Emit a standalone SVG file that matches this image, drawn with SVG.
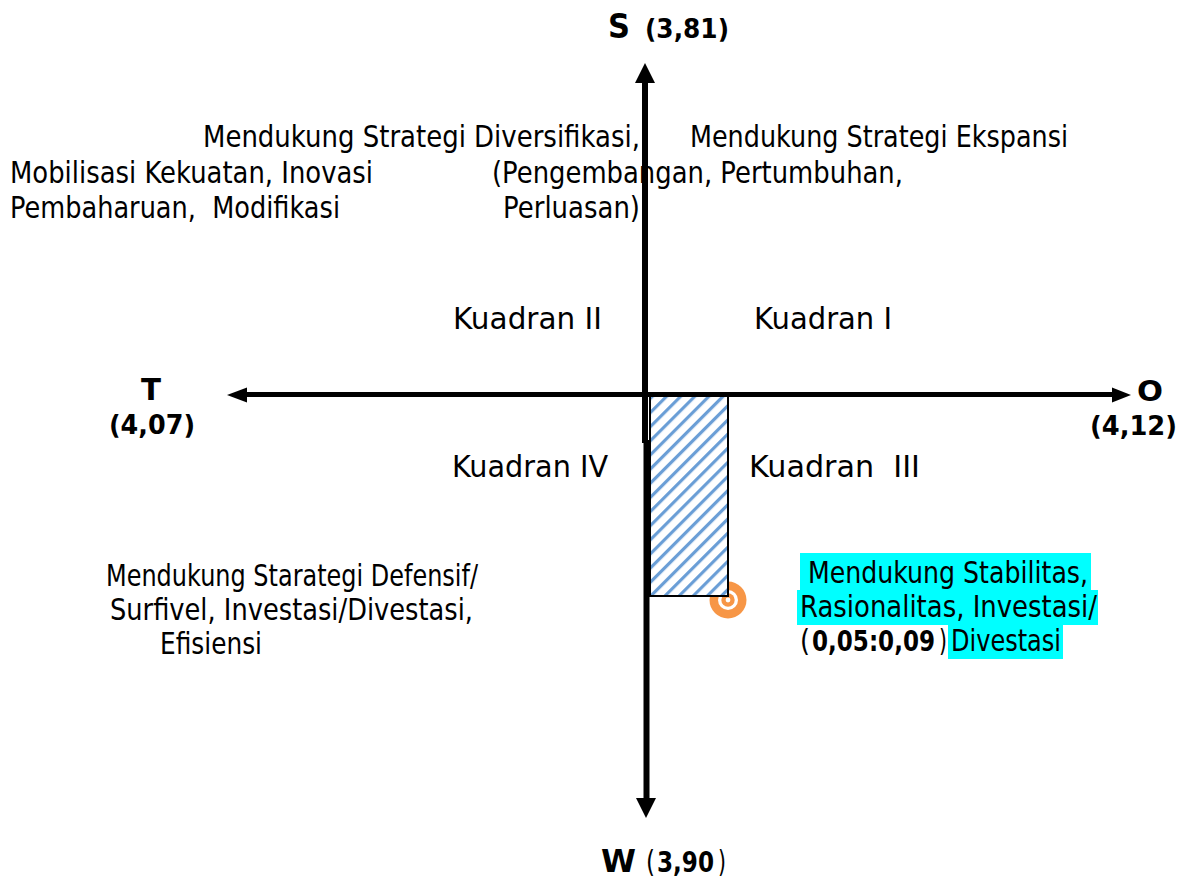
<svg xmlns="http://www.w3.org/2000/svg" width="1184" height="880" viewBox="0 0 1184 880">
<style>
  .t { font-family: "DejaVu Sans", Verdana, sans-serif; font-size: 30px; fill: #000; white-space: pre; }
  .c { font-family: "DejaVu Sans", Verdana, sans-serif; font-size: 31px; fill: #000; white-space: pre; }
  .b { font-family: "DejaVu Sans", Verdana, sans-serif; font-weight: bold; fill: #000; white-space: pre; }
  .hl { fill: #00ffff; }
  .axis { stroke: #000; fill: none; }
</style>
<defs>
  <pattern id="hatch" patternUnits="userSpaceOnUse" width="10" height="10" patternTransform="rotate(45)">
    <rect x="0" y="0" width="3.2" height="10" fill="#6a9ed6"/>
  </pattern>
</defs>
<rect width="1184" height="880" fill="#fff"/>

<g id="connectors">
  <line class="axis" x1="645" y1="80" x2="645" y2="443" stroke-width="6"/>
  <line class="axis" x1="646.5" y1="440" x2="646.5" y2="800" stroke-width="6"/>
  <polygon points="645,63 635,83 655,83" fill="#000"/>
  <polygon points="646,818 636,798 656,798" fill="#000"/>
  <line class="axis" x1="244" y1="394.5" x2="1116" y2="394.5" stroke-width="5"/>
  <polygon points="227,395 247,387.5 247,402.5" fill="#000"/>
  <polygon points="1131,395 1112,387.5 1112,402.5" fill="#000"/>
</g>

<g id="result-marker">
  <circle cx="728" cy="600" r="18.5" fill="#f79646"/>
  <circle cx="728" cy="600" r="10" fill="#fff"/>
  <circle cx="728" cy="600" r="6.7" fill="#f79646"/>
  <circle cx="728" cy="600" r="2.4" fill="#fff"/>
</g>

<g id="hatched-area">
  <rect x="650" y="396" width="78" height="200" fill="#fff"/>
  <rect x="650" y="396" width="78" height="200" fill="url(#hatch)" stroke="#000" stroke-width="2"/>
</g>

<g id="label-S">
  <text class="b" x="608" y="38" font-size="33" textLength="22" lengthAdjust="spacingAndGlyphs">S</text>
  <text class="b" x="645" y="38" font-size="26" textLength="84" lengthAdjust="spacingAndGlyphs">(3,81)</text>
</g>
<g id="label-T">
  <text class="b" x="141" y="400" font-size="31" textLength="20" lengthAdjust="spacingAndGlyphs">T</text>
  <text class="b" x="109" y="434" font-size="27" textLength="86" lengthAdjust="spacingAndGlyphs">(4,07)</text>
</g>
<g id="label-O">
  <text class="b" x="1137" y="401" font-size="29" textLength="26" lengthAdjust="spacingAndGlyphs">O</text>
  <text class="b" x="1090" y="435" font-size="27" textLength="87" lengthAdjust="spacingAndGlyphs">(4,12)</text>
</g>
<g id="label-W">
  <text class="b" x="601" y="872" font-size="32" textLength="35" lengthAdjust="spacingAndGlyphs">W</text>
  <text class="t" x="646" y="872" font-size="28" textLength="9" lengthAdjust="spacingAndGlyphs">(</text>
  <text class="b" x="657" y="872" font-size="28" textLength="57" lengthAdjust="spacingAndGlyphs">3,90</text>
  <text class="t" x="718" y="872" font-size="28" textLength="8" lengthAdjust="spacingAndGlyphs">)</text>
</g>

<g id="quadrant-II-text">
  <text class="t" x="203" y="147" textLength="437" lengthAdjust="spacingAndGlyphs">Mendukung Strategi Diversifikasi,</text>
  <text class="t" x="10" y="183" textLength="363" lengthAdjust="spacingAndGlyphs">Mobilisasi Kekuatan, Inovasi</text>
  <text class="t" x="10" y="218" textLength="330" lengthAdjust="spacingAndGlyphs">Pembaharuan,  Modifikasi</text>
</g>
<g id="quadrant-I-text">
  <text class="t" x="690" y="147" textLength="378" lengthAdjust="spacingAndGlyphs">Mendukung Strategi Ekspansi</text>
  <text class="t" x="492" y="183" textLength="411" lengthAdjust="spacingAndGlyphs">(Pengembangan, Pertumbuhan,</text>
  <text class="t" x="503" y="218" textLength="137" lengthAdjust="spacingAndGlyphs">Perluasan)</text>
</g>

<g id="kuadran-II"><text class="c" x="453" y="329" textLength="149" lengthAdjust="spacingAndGlyphs">Kuadran II</text></g>
<g id="kuadran-I"><text class="c" x="754" y="329" textLength="138" lengthAdjust="spacingAndGlyphs">Kuadran I</text></g>
<g id="kuadran-IV"><text class="c" x="452" y="477" textLength="156" lengthAdjust="spacingAndGlyphs">Kuadran IV</text></g>
<g id="kuadran-III"><text class="c" x="749" y="477" textLength="171" lengthAdjust="spacingAndGlyphs">Kuadran  III</text></g>

<g id="quadrant-IV-text">
  <text class="t" x="106" y="586" textLength="372" lengthAdjust="spacingAndGlyphs">Mendukung Starategi Defensif/</text>
  <text class="t" x="110" y="620" textLength="363" lengthAdjust="spacingAndGlyphs">Surfivel, Investasi/Divestasi,</text>
  <text class="t" x="160" y="654" textLength="102" lengthAdjust="spacingAndGlyphs">Efisiensi</text>
</g>

<g id="quadrant-III-text">
  <rect class="hl" x="800" y="553" width="291" height="37"/>
  <rect class="hl" x="797" y="590" width="301" height="35"/>
  <rect class="hl" x="948" y="625" width="115" height="34"/>
  <text class="t" x="800" y="583" textLength="288" lengthAdjust="spacingAndGlyphs"> Mendukung Stabilitas,</text>
  <text class="t" x="800" y="617" textLength="297" lengthAdjust="spacingAndGlyphs">Rasionalitas, Investasi/</text>
  <text class="t" x="800" y="651" textLength="10" lengthAdjust="spacingAndGlyphs">(</text>
  <text class="b" x="812" y="651" font-size="29" textLength="123" lengthAdjust="spacingAndGlyphs">0,05:0,09</text>
  <text class="t" x="939" y="651" textLength="8" lengthAdjust="spacingAndGlyphs">)</text>
  <text class="t" x="951" y="651" textLength="110" lengthAdjust="spacingAndGlyphs">Divestasi</text>
</g>
</svg>
